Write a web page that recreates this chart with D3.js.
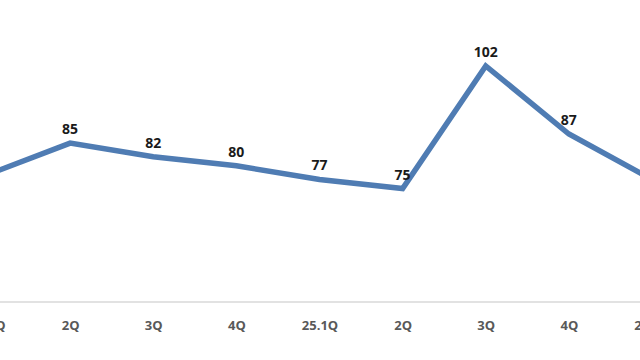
<!DOCTYPE html>
<html>
<head>
<meta charset="utf-8">
<script src="https://cdn.jsdelivr.net/npm/d3@7"></script>
<style>
  html, body { margin: 0; padding: 0; background: #ffffff; }
  svg { display: block; }
</style>
</head>
<body>
<svg id="chart" width="640" height="360"></svg>
<script>
const categories = ["24.1Q", "2Q", "3Q", "4Q", "25.1Q", "2Q", "3Q", "4Q", "26.1Q"];
const values = [78, 85, 82, 80, 77, 75, 102, 87, 77];

const svg = d3.select("#chart");
const W = 640, H = 360;

const x = d3.scalePoint()
  .domain(categories.map((d, i) => i))
  .range([-13, 652]);

const y = d3.scaleLinear()
  .domain([50, 110])
  .range([302, 29.6]);

const xAxis = d3.axisBottom(x)
  .tickSize(0)
  .tickPadding(19)
  .tickFormat(i => categories[i]);

const gx = svg.append("g")
  .attr("transform", `translate(0,${y(50)})`)
  .call(xAxis);
gx.select(".domain")
  .attr("d", `M0,0H${W}`)
  .attr("stroke", "#d9d9d9")
  .attr("stroke-width", 1.5);
gx.selectAll("text")
  .attr("fill", "#595959")
  .style("font-family", "'Open Sans', sans-serif")
  .style("font-size", "13px")
  .style("font-weight", "700");

const line = d3.line()
  .x((d, i) => x(i))
  .y(d => y(d));

svg.append("path")
  .datum(values)
  .attr("d", line)
  .attr("fill", "none")
  .attr("stroke", "#4f7cb3")
  .attr("stroke-width", 5.5)
  .attr("stroke-linejoin", "miter");

svg.append("g")
  .selectAll("text")
  .data(values)
  .join("text")
  .attr("x", (d, i) => x(i))
  .attr("y", d => y(d) - 9)
  .attr("text-anchor", "middle")
  .attr("fill", "#1a1a1a")
  .style("font-family", "'Open Sans', sans-serif")
  .style("font-size", "14px")
  .style("font-weight", "700")
  .text(d => d);
</script>
</body>
</html>
